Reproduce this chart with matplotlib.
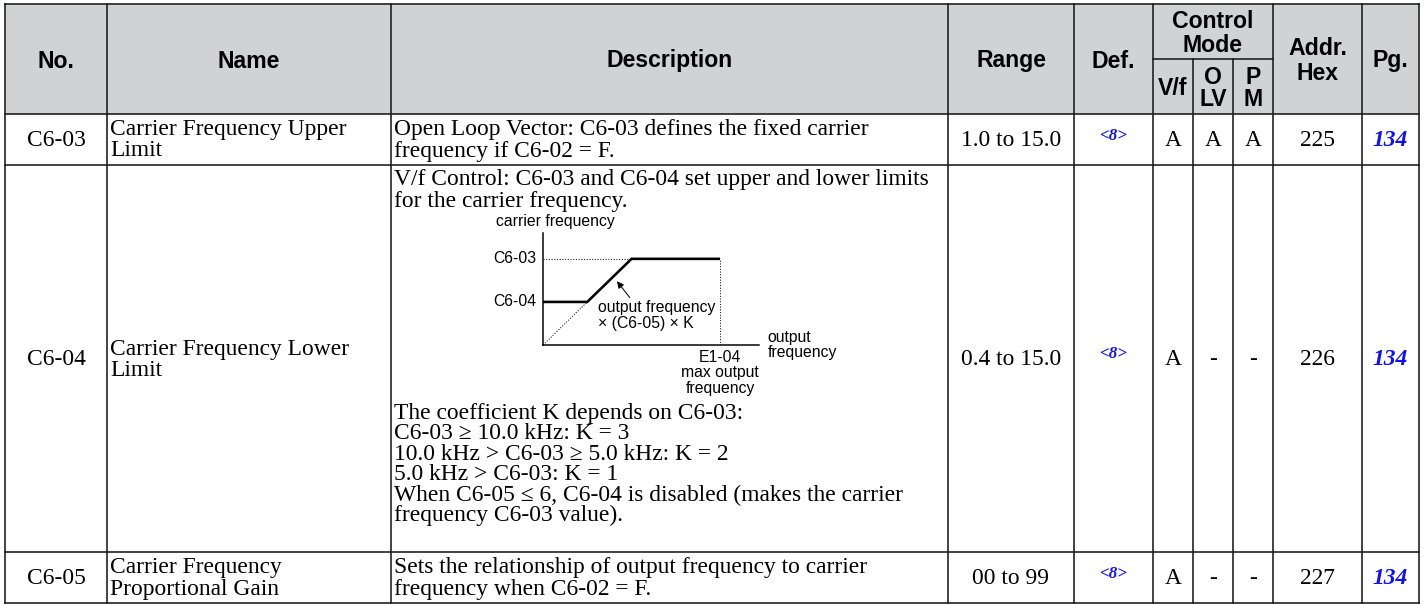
import matplotlib
matplotlib.use("Agg")
import matplotlib.pyplot as plt
from matplotlib.patches import Rectangle

W, H = 1426, 605
DPI = 100
PT = 72.0 / DPI  # points per pixel

# ------------------------------------------------------------------ data
numbers = ["C6-03", "C6-04", "C6-05"]
names = [["Carrier Frequency Upper", "Limit"],
         ["Carrier Frequency Lower", "Limit"],
         ["Carrier Frequency", "Proportional Gain"]]
ranges = ["1.0 to 15.0", "0.4 to 15.0", "00 to 99"]
defaults = ["<8>", "<8>", "<8>"]
mode_vf = ["A", "A", "A"]
mode_olv = ["A", "-", "-"]
mode_pm = ["A", "-", "-"]
addr_hex = ["225", "226", "227"]
pages = ["134", "134", "134"]

desc_row1 = ["Open Loop Vector: C6-03 defines the fixed carrier",
             "frequency if C6-02 = F."]
desc_row2_top = ["V/f Control: C6-03 and C6-04 set upper and lower limits",
                 "for the carrier frequency."]
desc_row2_bottom = ["The coefficient K depends on C6-03:",
                    "C6-03 \u2265 10.0 kHz: K = 3",
                    "10.0 kHz > C6-03 \u2265 5.0 kHz: K = 2",
                    "5.0 kHz > C6-03: K = 1",
                    "When C6-05 \u2264 6, C6-04 is disabled (makes the carrier",
                    "frequency C6-03 value)."]
desc_row3 = ["Sets the relationship of output frequency to carrier",
             "frequency when C6-02 = F."]

header_labels = ["No.", "Name", "Description", "Range", "Def.", "Addr.\nHex", "Pg."]
mode_title = "Control\nMode"
mode_labels = ["V/f", "O\nLV", "P\nM"]

# mini chart (x: output frequency, E1-04 = 1 ; y: carrier frequency, C6-03 = 1)
chart_x = [0.0, 0.25, 0.5, 1.0]
chart_y = [0.5, 0.5, 1.0, 1.0]
c604_level = 0.5
c603_level = 1.0
e104_x = 1.0

# ------------------------------------------------------------------ layout
xcol = [5, 107, 391, 948, 1074, 1153, 1193, 1233, 1273, 1362, 1419]
y_top, y_sub, y_head, y_r1, y_r2, y_bot = 4, 59, 114, 165, 552, 603

SERIF = ["Liberation Serif", "DejaVu Serif"]
SANS = ["Liberation Sans", "DejaVu Sans"]
BODY = 23.5 * PT
HEAD = 23 * PT
SMALL = 15.7 * PT
DEF = 17 * PT
BLUE = "#1010ff"
GRID = "#1a1a1a"

fig = plt.figure(figsize=(W / DPI, H / DPI), dpi=DPI)
fig.patch.set_facecolor("white")
ax = fig.add_axes([0, 0, 1, 1])
ax.set_xlim(0, W)
ax.set_ylim(H, 0)
ax.axis("off")

# header background
ax.add_patch(Rectangle((xcol[0], y_top), xcol[-1] - xcol[0], y_head - y_top,
                       facecolor="#d1d2d4", edgecolor="none", zorder=0))

lw = 1.6 * PT
def hline(y, x0, x1, w=lw):
    ax.plot([x0, x1], [y, y], color=GRID, lw=w, solid_capstyle="projecting", zorder=3)
def vline(x, y0, y1, w=lw):
    ax.plot([x, x], [y0, y1], color=GRID, lw=w, solid_capstyle="projecting", zorder=3)

for y in (y_top, y_head, y_r1, y_r2, y_bot):
    hline(y, xcol[0], xcol[-1])
hline(y_sub, xcol[5], xcol[8])
for i, x in enumerate(xcol):
    if i in (6, 7):
        vline(x, y_sub, y_bot)
    else:
        vline(x, y_top, y_bot)

def cx(i):
    return (xcol[i] + xcol[i + 1]) / 2

# header texts
hdr_cols = [0, 1, 2, 3, 4, 8, 9]
for lab, ci in zip(header_labels, hdr_cols):
    ax.text(cx(ci), (y_top + y_head) / 2 + 2, lab, ha="center", va="center",
            family=SANS, weight="bold", fontsize=HEAD, linespacing=1.15)
ax.text((xcol[5] + xcol[8]) / 2, (y_top + y_sub) / 2 + 2, mode_title, ha="center",
        va="center", family=SANS, weight="bold", fontsize=HEAD, linespacing=1.0)
for k, lab in enumerate(mode_labels):
    ax.text(cx(5 + k), (y_sub + y_head) / 2 + 2, lab, ha="center", va="center",
            family=SANS, weight="bold", fontsize=HEAD, linespacing=1.0)

# body rows
row_bounds = [(y_head, y_r1), (y_r1, y_r2), (y_r2, y_bot)]
LS = 21.0
for r, (y0, y1) in enumerate(row_bounds):
    yc = (y0 + y1) / 2 + 1
    ax.text(cx(0), yc, numbers[r], ha="center", va="center", family=SERIF, fontsize=BODY)
    for j, line in enumerate(names[r]):
        ax.text(xcol[1] + 3, yc + (j - 0.5) * LS, line, ha="left", va="center",
                family=SERIF, fontsize=BODY)
    ax.text(cx(3), yc, ranges[r], ha="center", va="center", family=SERIF, fontsize=BODY)
    ax.text(cx(4), yc - 5, defaults[r], ha="center", va="center", family=SERIF,
            fontsize=DEF, style="italic", weight="bold", color=BLUE)
    for k, vals in enumerate((mode_vf, mode_olv, mode_pm)):
        ax.text(cx(5 + k), yc, vals[r], ha="center", va="center", family=SERIF, fontsize=BODY)
    ax.text(cx(8), yc, addr_hex[r], ha="center", va="center", family=SERIF, fontsize=BODY)
    ax.text(cx(9), yc, pages[r], ha="center", va="center", family=SERIF, fontsize=BODY,
            style="italic", weight="bold", color=BLUE)

def desc_block(lines, y_first, step):
    for j, line in enumerate(lines):
        ax.text(xcol[2] + 3, y_first + j * step, line, ha="left", va="center",
                family=SERIF, fontsize=BODY)

yc1 = (y_head + y_r1) / 2 + 1
desc_block(desc_row1, yc1 - LS / 2, LS)
desc_block(desc_row2_top, 180, 21.5)
desc_block(desc_row2_bottom, 413, 20.5)
yc3 = (y_r2 + y_bot) / 2 + 1
desc_block(desc_row3, yc3 - LS / 2, LS)

# ------------------------------------------------------------------ mini chart
cx0, cy0, cx1, cy1 = 543, 345, 759, 233   # pixel frame of chart axes
XMAX, YMAX = 1.22, 1.30
cax = fig.add_axes([cx0 / W, 1 - cy0 / H, (cx1 - cx0) / W, (cy0 - cy1) / H])
cax.set_xlim(0, XMAX)
cax.set_ylim(0, YMAX)
cax.patch.set_alpha(0)
for s in ("top", "right"):
    cax.spines[s].set_visible(False)
for s in ("left", "bottom"):
    cax.spines[s].set_linewidth(1.5 * PT)
    cax.spines[s].set_color("black")
cax.set_xticks([])
cax.set_yticks([])

dot = dict(color="black", lw=0.9 * PT, linestyle=(0, (1.2, 1.8)))
cax.plot([0, chart_x[1]], [0, c604_level], **dot)
cax.plot([0, chart_x[2]], [c603_level, c603_level], **dot)
cax.plot([e104_x, e104_x], [0, c603_level], **dot)
cax.plot(chart_x, chart_y, color="black", lw=2.6 * PT, solid_capstyle="butt",
         solid_joinstyle="miter")

cax.annotate("", xy=(0.418, 0.74), xytext=(0.49, 0.55),
             arrowprops=dict(arrowstyle="-|>", color="black", lw=1.0 * PT,
                             mutation_scale=10, shrinkA=0, shrinkB=0))

CF = dict(family=SANS, fontsize=SMALL, clip_on=False)
cax.text(0.07, 1.43, "carrier frequency", ha="center", va="center", **CF)
cax.text(-0.035, c603_level, "C6-03", ha="right", va="center", **CF)
cax.text(-0.035, c604_level, "C6-04", ha="right", va="center", **CF)
cax.text(0.31, 0.44, "output frequency", ha="left", va="center", **CF)
cax.text(0.31, 0.255, "\u00d7 (C6-05) \u00d7 K", ha="left", va="center", **CF)
cax.text(1.27, 0.09, "output", ha="left", va="center", **CF)
cax.text(1.27, -0.085, "frequency", ha="left", va="center", **CF)
cax.text(e104_x, -0.15, "E1-04", ha="center", va="center", **CF)
cax.text(e104_x, -0.325, "max output", ha="center", va="center", **CF)
cax.text(e104_x, -0.50, "frequency", ha="center", va="center", **CF)

fig.savefig("out.png", dpi=DPI, facecolor="white")
